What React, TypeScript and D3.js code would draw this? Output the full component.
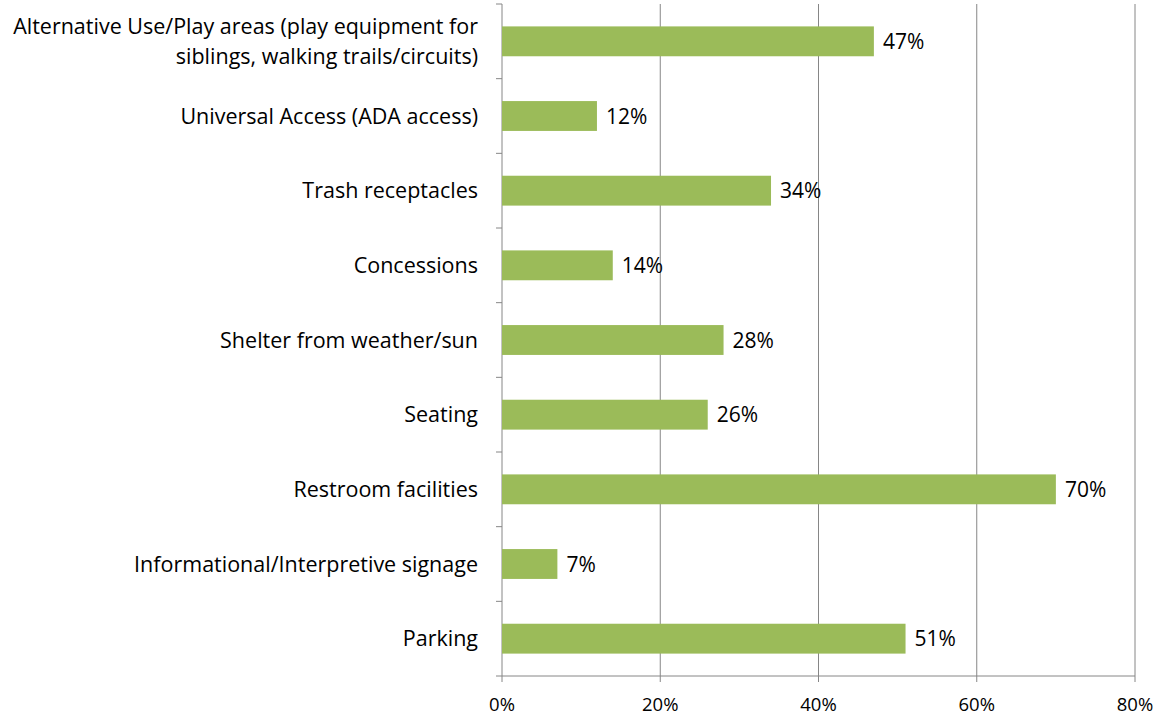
import React from "react";
import * as d3 from "d3";

const categories: string[][] = [
  ["Alternative Use/Play areas (play equipment for", "siblings, walking trails/circuits)"],
  ["Universal Access (ADA access)"],
  ["Trash receptacles"],
  ["Concessions"],
  ["Shelter from weather/sun"],
  ["Seating"],
  ["Restroom facilities"],
  ["Informational/Interpretive signage"],
  ["Parking"],
];
const values: number[] = [47, 12, 34, 14, 28, 26, 70, 7, 51];
const xTicks: number[] = [0, 20, 40, 60, 80];

const W = 1167;
const H = 717;
const left = 502;
const right = 1135;
const top = 4;
const bottom = 676;
const font = "'Open Sans', sans-serif";

export default function App() {
  const x = d3.scaleLinear().domain([0, 80]).range([left, right]);
  const idx = categories.map((_, i) => String(i));
  const y = d3.scaleBand().domain(idx).range([top, bottom]).paddingInner(0.6).paddingOuter(0.3);
  const band = (bottom - top) / categories.length;
  return (
    <svg width={W} height={H} style={{ position: "absolute", left: 0, top: 0 }}>
      <rect width={W} height={H} fill="#fff" />
      {xTicks.slice(1).map((t) => (
        <line key={"g" + t} x1={x(t)} x2={x(t)} y1={top} y2={bottom} stroke="#868686" strokeWidth={1} />
      ))}
      <line x1={left} x2={left} y1={top} y2={bottom} stroke="#868686" strokeWidth={1} />
      <line x1={left} x2={right} y1={bottom} y2={bottom} stroke="#868686" strokeWidth={1} />
      {d3.range(categories.length + 1).map((i) => (
        <line key={"yt" + i} x1={left - 6} x2={left} y1={top + i * band} y2={top + i * band} stroke="#868686" />
      ))}
      {xTicks.map((t) => (
        <line key={"xt" + t} x1={x(t)} x2={x(t)} y1={bottom} y2={bottom + 6} stroke="#868686" />
      ))}
      {values.map((v, i) => (
        <g key={"b" + i}>
          <rect x={left} y={y(String(i))} width={x(v) - left} height={y.bandwidth()} fill="#9BBB59" />
          <text x={x(v) + 9} y={(y(String(i)) as number) + y.bandwidth() / 2} dy="0.36em" fontSize={21} fontFamily={font} fill="#000">
            {v}%
          </text>
        </g>
      ))}
      {categories.map((lines, i) => {
        const cy = (y(String(i)) as number) + y.bandwidth() / 2;
        const lh = 30;
        const start = cy - ((lines.length - 1) * lh) / 2;
        return (
          <text key={"c" + i} textAnchor="end" fontSize={21.5} fontFamily={font} fill="#000">
            {lines.map((l, j) => (
              <tspan key={j} x={478} y={start + j * lh} dy="0.36em">{l}</tspan>
            ))}
          </text>
        );
      })}
      {xTicks.map((t) => (
        <text key={"xl" + t} x={x(t)} y={711} textAnchor="middle" fontSize={18.5} fontFamily={font} fill="#000">
          {t}%
        </text>
      ))}
    </svg>
  );
}
